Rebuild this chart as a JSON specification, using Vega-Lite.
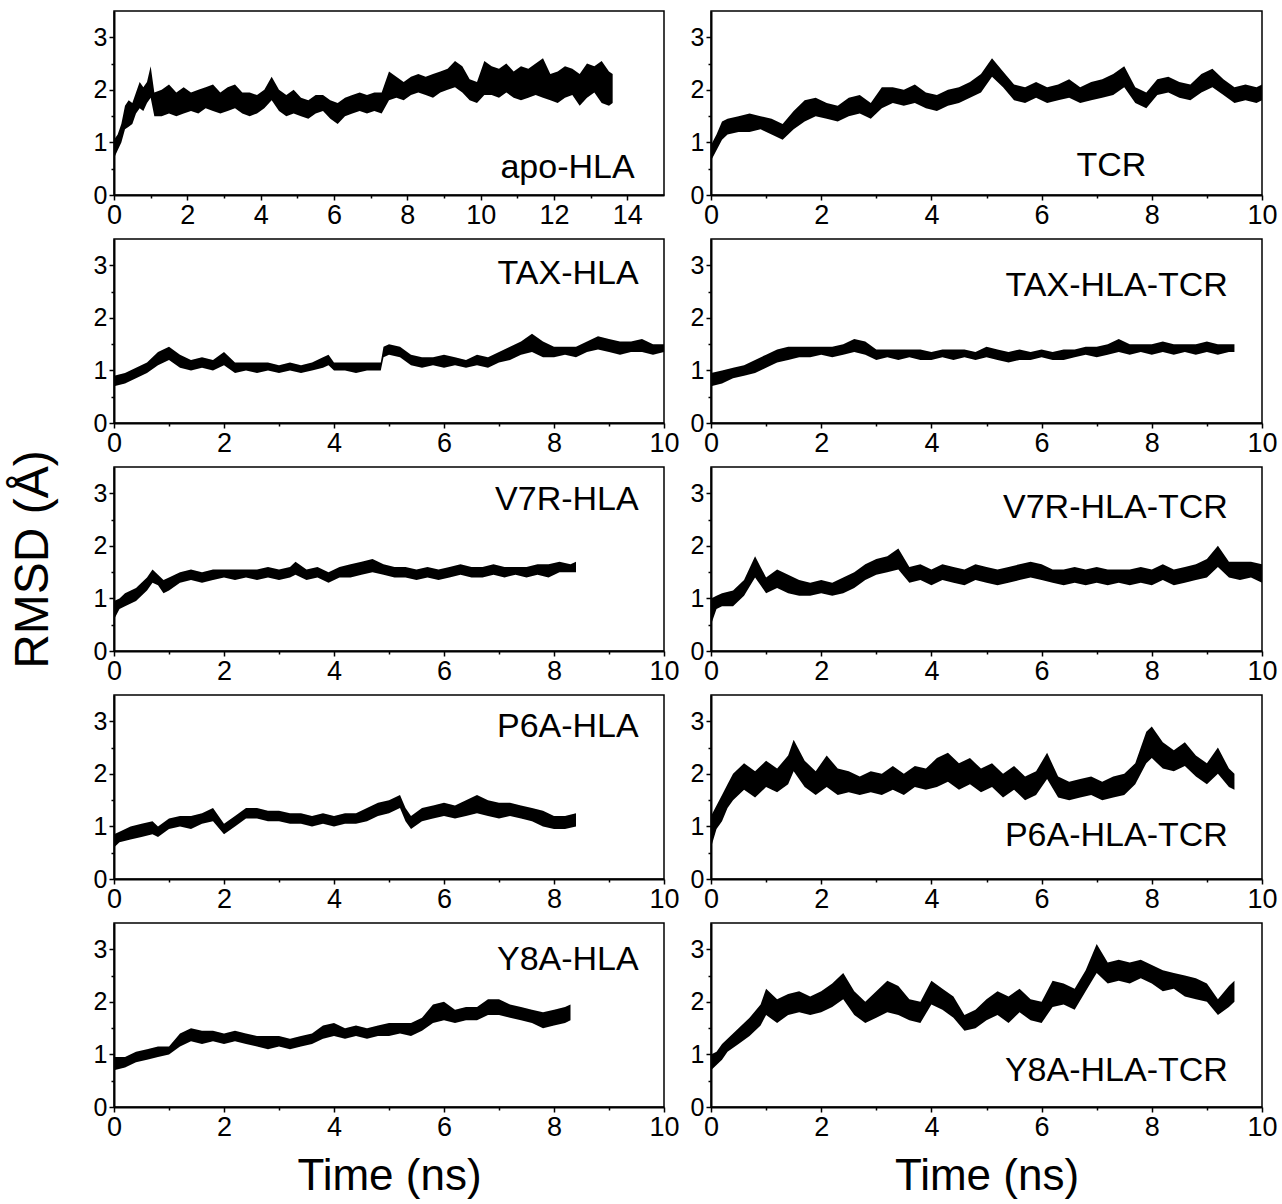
{
"$schema": "https://vega.github.io/schema/vega-lite/v6.json",
"padding": {"left": 8, "top": 10, "right": 5, "bottom": 2},
"background": "white",
"columns": 2,
"spacing": {"row": 44, "column": 47},
"bounds": "flush",
"datasets": {
"apo": [{"t":0.0,"lo":0.70,"hi":1.05},{"t":0.1,"lo":0.85,"hi":1.15},{"t":0.2,"lo":1.00,"hi":1.35},{"t":0.3,"lo":1.25,"hi":1.70},{"t":0.4,"lo":1.30,"hi":1.80},{"t":0.5,"lo":1.35,"hi":1.75},{"t":0.6,"lo":1.55,"hi":1.95},{"t":0.7,"lo":1.65,"hi":2.15},{"t":0.8,"lo":1.60,"hi":2.05},{"t":0.9,"lo":1.75,"hi":2.15},{"t":1.0,"lo":1.85,"hi":2.45},{"t":1.1,"lo":1.50,"hi":1.95},{"t":1.3,"lo":1.50,"hi":2.00},{"t":1.5,"lo":1.55,"hi":2.10},{"t":1.7,"lo":1.50,"hi":1.95},{"t":1.9,"lo":1.55,"hi":2.05},{"t":2.1,"lo":1.60,"hi":1.95},{"t":2.3,"lo":1.55,"hi":2.00},{"t":2.5,"lo":1.65,"hi":2.05},{"t":2.7,"lo":1.60,"hi":2.10},{"t":2.9,"lo":1.55,"hi":1.95},{"t":3.1,"lo":1.60,"hi":2.05},{"t":3.3,"lo":1.65,"hi":2.10},{"t":3.5,"lo":1.55,"hi":1.95},{"t":3.7,"lo":1.50,"hi":1.95},{"t":3.9,"lo":1.55,"hi":1.90},{"t":4.1,"lo":1.65,"hi":2.00},{"t":4.3,"lo":1.80,"hi":2.25},{"t":4.5,"lo":1.60,"hi":2.00},{"t":4.7,"lo":1.50,"hi":1.90},{"t":4.9,"lo":1.55,"hi":2.00},{"t":5.1,"lo":1.50,"hi":1.85},{"t":5.3,"lo":1.45,"hi":1.80},{"t":5.5,"lo":1.55,"hi":1.90},{"t":5.7,"lo":1.60,"hi":1.90},{"t":5.9,"lo":1.45,"hi":1.80},{"t":6.1,"lo":1.35,"hi":1.75},{"t":6.3,"lo":1.50,"hi":1.85},{"t":6.5,"lo":1.55,"hi":1.90},{"t":6.7,"lo":1.60,"hi":1.95},{"t":6.9,"lo":1.55,"hi":1.90},{"t":7.1,"lo":1.60,"hi":1.95},{"t":7.3,"lo":1.55,"hi":1.95},{"t":7.5,"lo":1.80,"hi":2.35},{"t":7.7,"lo":1.85,"hi":2.25},{"t":7.9,"lo":1.80,"hi":2.15},{"t":8.1,"lo":1.90,"hi":2.25},{"t":8.3,"lo":1.95,"hi":2.30},{"t":8.5,"lo":1.90,"hi":2.25},{"t":8.7,"lo":1.85,"hi":2.30},{"t":8.9,"lo":1.95,"hi":2.35},{"t":9.1,"lo":2.00,"hi":2.40},{"t":9.3,"lo":2.05,"hi":2.55},{"t":9.5,"lo":1.95,"hi":2.45},{"t":9.7,"lo":1.80,"hi":2.20},{"t":9.9,"lo":1.75,"hi":2.15},{"t":10.1,"lo":1.90,"hi":2.55},{"t":10.3,"lo":1.90,"hi":2.45},{"t":10.5,"lo":1.85,"hi":2.40},{"t":10.7,"lo":1.95,"hi":2.50},{"t":10.9,"lo":1.85,"hi":2.35},{"t":11.1,"lo":1.80,"hi":2.45},{"t":11.3,"lo":1.85,"hi":2.40},{"t":11.5,"lo":1.90,"hi":2.50},{"t":11.7,"lo":1.85,"hi":2.60},{"t":11.9,"lo":1.80,"hi":2.30},{"t":12.1,"lo":1.75,"hi":2.35},{"t":12.3,"lo":1.85,"hi":2.45},{"t":12.5,"lo":1.90,"hi":2.40},{"t":12.7,"lo":1.70,"hi":2.30},{"t":12.9,"lo":1.85,"hi":2.50},{"t":13.1,"lo":1.95,"hi":2.45},{"t":13.3,"lo":1.75,"hi":2.55},{"t":13.5,"lo":1.70,"hi":2.35},{"t":13.6,"lo":1.75,"hi":2.30}],
"tcr": [{"t":0.0,"lo":0.65,"hi":0.95},{"t":0.1,"lo":0.85,"hi":1.15},{"t":0.2,"lo":1.05,"hi":1.40},{"t":0.3,"lo":1.15,"hi":1.45},{"t":0.5,"lo":1.20,"hi":1.50},{"t":0.7,"lo":1.20,"hi":1.55},{"t":0.9,"lo":1.25,"hi":1.50},{"t":1.1,"lo":1.15,"hi":1.45},{"t":1.3,"lo":1.05,"hi":1.35},{"t":1.5,"lo":1.25,"hi":1.60},{"t":1.7,"lo":1.40,"hi":1.80},{"t":1.9,"lo":1.50,"hi":1.85},{"t":2.1,"lo":1.45,"hi":1.75},{"t":2.3,"lo":1.40,"hi":1.70},{"t":2.5,"lo":1.50,"hi":1.85},{"t":2.7,"lo":1.55,"hi":1.90},{"t":2.9,"lo":1.45,"hi":1.75},{"t":3.1,"lo":1.65,"hi":2.05},{"t":3.3,"lo":1.75,"hi":2.05},{"t":3.5,"lo":1.70,"hi":2.00},{"t":3.7,"lo":1.75,"hi":2.10},{"t":3.9,"lo":1.65,"hi":1.95},{"t":4.1,"lo":1.60,"hi":1.90},{"t":4.3,"lo":1.70,"hi":2.00},{"t":4.5,"lo":1.75,"hi":2.05},{"t":4.7,"lo":1.85,"hi":2.15},{"t":4.9,"lo":1.95,"hi":2.30},{"t":5.1,"lo":2.25,"hi":2.60},{"t":5.3,"lo":2.05,"hi":2.35},{"t":5.5,"lo":1.80,"hi":2.10},{"t":5.7,"lo":1.75,"hi":2.05},{"t":5.9,"lo":1.85,"hi":2.15},{"t":6.1,"lo":1.75,"hi":2.05},{"t":6.3,"lo":1.80,"hi":2.10},{"t":6.5,"lo":1.85,"hi":2.20},{"t":6.7,"lo":1.75,"hi":2.05},{"t":6.9,"lo":1.80,"hi":2.15},{"t":7.1,"lo":1.85,"hi":2.20},{"t":7.3,"lo":1.90,"hi":2.30},{"t":7.5,"lo":2.05,"hi":2.45},{"t":7.7,"lo":1.75,"hi":2.05},{"t":7.9,"lo":1.65,"hi":1.95},{"t":8.1,"lo":1.90,"hi":2.20},{"t":8.3,"lo":1.95,"hi":2.25},{"t":8.5,"lo":1.85,"hi":2.15},{"t":8.7,"lo":1.80,"hi":2.10},{"t":8.9,"lo":1.95,"hi":2.30},{"t":9.1,"lo":2.05,"hi":2.40},{"t":9.3,"lo":1.90,"hi":2.20},{"t":9.5,"lo":1.75,"hi":2.05},{"t":9.7,"lo":1.80,"hi":2.10},{"t":9.9,"lo":1.75,"hi":2.05},{"t":10.0,"lo":1.80,"hi":2.10}],
"tax": [{"t":0.0,"lo":0.70,"hi":0.90},{"t":0.2,"lo":0.75,"hi":0.95},{"t":0.4,"lo":0.85,"hi":1.05},{"t":0.6,"lo":0.95,"hi":1.15},{"t":0.8,"lo":1.10,"hi":1.35},{"t":1.0,"lo":1.20,"hi":1.45},{"t":1.2,"lo":1.05,"hi":1.30},{"t":1.4,"lo":1.00,"hi":1.20},{"t":1.6,"lo":1.05,"hi":1.25},{"t":1.8,"lo":1.00,"hi":1.20},{"t":2.0,"lo":1.10,"hi":1.35},{"t":2.2,"lo":0.95,"hi":1.15},{"t":2.4,"lo":1.00,"hi":1.15},{"t":2.6,"lo":0.95,"hi":1.15},{"t":2.8,"lo":1.00,"hi":1.15},{"t":3.0,"lo":0.95,"hi":1.10},{"t":3.2,"lo":1.00,"hi":1.15},{"t":3.4,"lo":0.95,"hi":1.10},{"t":3.6,"lo":1.00,"hi":1.15},{"t":3.8,"lo":1.05,"hi":1.25},{"t":3.9,"lo":1.10,"hi":1.30},{"t":4.0,"lo":1.00,"hi":1.15},{"t":4.2,"lo":1.00,"hi":1.15},{"t":4.4,"lo":0.95,"hi":1.15},{"t":4.6,"lo":1.00,"hi":1.15},{"t":4.85,"lo":1.00,"hi":1.15},{"t":4.9,"lo":1.25,"hi":1.45},{"t":5.0,"lo":1.30,"hi":1.50},{"t":5.2,"lo":1.25,"hi":1.45},{"t":5.4,"lo":1.10,"hi":1.30},{"t":5.6,"lo":1.05,"hi":1.25},{"t":5.8,"lo":1.10,"hi":1.25},{"t":6.0,"lo":1.05,"hi":1.30},{"t":6.2,"lo":1.10,"hi":1.25},{"t":6.4,"lo":1.05,"hi":1.20},{"t":6.6,"lo":1.10,"hi":1.30},{"t":6.8,"lo":1.05,"hi":1.25},{"t":7.0,"lo":1.15,"hi":1.35},{"t":7.2,"lo":1.20,"hi":1.45},{"t":7.4,"lo":1.30,"hi":1.55},{"t":7.6,"lo":1.35,"hi":1.70},{"t":7.8,"lo":1.25,"hi":1.55},{"t":8.0,"lo":1.25,"hi":1.45},{"t":8.2,"lo":1.30,"hi":1.45},{"t":8.4,"lo":1.25,"hi":1.45},{"t":8.6,"lo":1.35,"hi":1.55},{"t":8.8,"lo":1.40,"hi":1.65},{"t":9.0,"lo":1.35,"hi":1.60},{"t":9.2,"lo":1.30,"hi":1.55},{"t":9.4,"lo":1.35,"hi":1.55},{"t":9.6,"lo":1.35,"hi":1.60},{"t":9.8,"lo":1.30,"hi":1.50},{"t":10.0,"lo":1.35,"hi":1.50}],
"taxt": [{"t":0.0,"lo":0.70,"hi":0.95},{"t":0.2,"lo":0.75,"hi":1.00},{"t":0.4,"lo":0.85,"hi":1.05},{"t":0.6,"lo":0.90,"hi":1.10},{"t":0.8,"lo":0.95,"hi":1.20},{"t":1.0,"lo":1.05,"hi":1.30},{"t":1.2,"lo":1.15,"hi":1.40},{"t":1.4,"lo":1.20,"hi":1.45},{"t":1.6,"lo":1.25,"hi":1.45},{"t":1.8,"lo":1.25,"hi":1.45},{"t":2.0,"lo":1.30,"hi":1.45},{"t":2.2,"lo":1.25,"hi":1.45},{"t":2.4,"lo":1.30,"hi":1.50},{"t":2.6,"lo":1.35,"hi":1.60},{"t":2.8,"lo":1.30,"hi":1.55},{"t":3.0,"lo":1.20,"hi":1.40},{"t":3.2,"lo":1.25,"hi":1.40},{"t":3.4,"lo":1.20,"hi":1.40},{"t":3.6,"lo":1.25,"hi":1.40},{"t":3.8,"lo":1.20,"hi":1.40},{"t":4.0,"lo":1.20,"hi":1.35},{"t":4.2,"lo":1.25,"hi":1.40},{"t":4.4,"lo":1.20,"hi":1.40},{"t":4.6,"lo":1.25,"hi":1.40},{"t":4.8,"lo":1.20,"hi":1.35},{"t":5.0,"lo":1.25,"hi":1.45},{"t":5.2,"lo":1.20,"hi":1.40},{"t":5.4,"lo":1.15,"hi":1.35},{"t":5.6,"lo":1.20,"hi":1.40},{"t":5.8,"lo":1.20,"hi":1.35},{"t":6.0,"lo":1.25,"hi":1.40},{"t":6.2,"lo":1.20,"hi":1.35},{"t":6.4,"lo":1.20,"hi":1.40},{"t":6.6,"lo":1.25,"hi":1.40},{"t":6.8,"lo":1.30,"hi":1.45},{"t":7.0,"lo":1.25,"hi":1.45},{"t":7.2,"lo":1.30,"hi":1.50},{"t":7.4,"lo":1.35,"hi":1.60},{"t":7.6,"lo":1.30,"hi":1.50},{"t":7.8,"lo":1.35,"hi":1.50},{"t":8.0,"lo":1.30,"hi":1.50},{"t":8.2,"lo":1.35,"hi":1.55},{"t":8.4,"lo":1.30,"hi":1.50},{"t":8.6,"lo":1.35,"hi":1.50},{"t":8.8,"lo":1.30,"hi":1.50},{"t":9.0,"lo":1.35,"hi":1.55},{"t":9.2,"lo":1.30,"hi":1.50},{"t":9.4,"lo":1.35,"hi":1.50},{"t":9.5,"lo":1.35,"hi":1.50}],
"v7r": [{"t":0.0,"lo":0.60,"hi":0.95},{"t":0.1,"lo":0.80,"hi":1.00},{"t":0.2,"lo":0.85,"hi":1.10},{"t":0.4,"lo":0.95,"hi":1.20},{"t":0.6,"lo":1.15,"hi":1.40},{"t":0.7,"lo":1.30,"hi":1.55},{"t":0.8,"lo":1.25,"hi":1.45},{"t":0.9,"lo":1.10,"hi":1.35},{"t":1.0,"lo":1.15,"hi":1.40},{"t":1.2,"lo":1.30,"hi":1.50},{"t":1.4,"lo":1.35,"hi":1.55},{"t":1.6,"lo":1.30,"hi":1.50},{"t":1.8,"lo":1.35,"hi":1.55},{"t":2.0,"lo":1.40,"hi":1.55},{"t":2.2,"lo":1.35,"hi":1.55},{"t":2.4,"lo":1.40,"hi":1.55},{"t":2.6,"lo":1.35,"hi":1.55},{"t":2.8,"lo":1.40,"hi":1.60},{"t":3.0,"lo":1.35,"hi":1.55},{"t":3.2,"lo":1.40,"hi":1.60},{"t":3.3,"lo":1.45,"hi":1.70},{"t":3.5,"lo":1.35,"hi":1.55},{"t":3.7,"lo":1.40,"hi":1.60},{"t":3.9,"lo":1.30,"hi":1.50},{"t":4.1,"lo":1.40,"hi":1.60},{"t":4.3,"lo":1.40,"hi":1.65},{"t":4.5,"lo":1.45,"hi":1.70},{"t":4.7,"lo":1.50,"hi":1.75},{"t":4.9,"lo":1.45,"hi":1.65},{"t":5.1,"lo":1.40,"hi":1.60},{"t":5.3,"lo":1.40,"hi":1.60},{"t":5.5,"lo":1.35,"hi":1.55},{"t":5.7,"lo":1.40,"hi":1.60},{"t":5.9,"lo":1.35,"hi":1.55},{"t":6.1,"lo":1.40,"hi":1.60},{"t":6.3,"lo":1.45,"hi":1.65},{"t":6.5,"lo":1.40,"hi":1.60},{"t":6.7,"lo":1.40,"hi":1.60},{"t":6.9,"lo":1.45,"hi":1.65},{"t":7.1,"lo":1.40,"hi":1.60},{"t":7.3,"lo":1.45,"hi":1.60},{"t":7.5,"lo":1.40,"hi":1.60},{"t":7.7,"lo":1.45,"hi":1.65},{"t":7.9,"lo":1.40,"hi":1.65},{"t":8.1,"lo":1.50,"hi":1.70},{"t":8.3,"lo":1.50,"hi":1.65},{"t":8.4,"lo":1.50,"hi":1.70}],
"v7rt": [{"t":0.0,"lo":0.50,"hi":1.00},{"t":0.1,"lo":0.80,"hi":1.05},{"t":0.2,"lo":0.85,"hi":1.10},{"t":0.4,"lo":0.85,"hi":1.15},{"t":0.6,"lo":1.05,"hi":1.35},{"t":0.8,"lo":1.40,"hi":1.80},{"t":0.9,"lo":1.25,"hi":1.60},{"t":1.0,"lo":1.10,"hi":1.40},{"t":1.2,"lo":1.20,"hi":1.55},{"t":1.4,"lo":1.10,"hi":1.45},{"t":1.6,"lo":1.05,"hi":1.35},{"t":1.8,"lo":1.05,"hi":1.30},{"t":2.0,"lo":1.10,"hi":1.35},{"t":2.2,"lo":1.05,"hi":1.30},{"t":2.4,"lo":1.10,"hi":1.40},{"t":2.6,"lo":1.20,"hi":1.50},{"t":2.8,"lo":1.35,"hi":1.65},{"t":3.0,"lo":1.45,"hi":1.75},{"t":3.2,"lo":1.50,"hi":1.80},{"t":3.4,"lo":1.55,"hi":1.95},{"t":3.6,"lo":1.30,"hi":1.60},{"t":3.8,"lo":1.35,"hi":1.65},{"t":4.0,"lo":1.25,"hi":1.55},{"t":4.2,"lo":1.35,"hi":1.65},{"t":4.4,"lo":1.30,"hi":1.60},{"t":4.6,"lo":1.25,"hi":1.55},{"t":4.8,"lo":1.35,"hi":1.65},{"t":5.0,"lo":1.30,"hi":1.60},{"t":5.2,"lo":1.25,"hi":1.55},{"t":5.4,"lo":1.30,"hi":1.60},{"t":5.6,"lo":1.35,"hi":1.65},{"t":5.8,"lo":1.40,"hi":1.70},{"t":6.0,"lo":1.35,"hi":1.65},{"t":6.2,"lo":1.30,"hi":1.55},{"t":6.4,"lo":1.25,"hi":1.55},{"t":6.6,"lo":1.30,"hi":1.60},{"t":6.8,"lo":1.25,"hi":1.55},{"t":7.0,"lo":1.30,"hi":1.60},{"t":7.2,"lo":1.25,"hi":1.55},{"t":7.4,"lo":1.30,"hi":1.55},{"t":7.6,"lo":1.25,"hi":1.55},{"t":7.8,"lo":1.30,"hi":1.60},{"t":8.0,"lo":1.25,"hi":1.55},{"t":8.2,"lo":1.35,"hi":1.65},{"t":8.4,"lo":1.25,"hi":1.55},{"t":8.6,"lo":1.30,"hi":1.60},{"t":8.8,"lo":1.35,"hi":1.65},{"t":9.0,"lo":1.40,"hi":1.75},{"t":9.2,"lo":1.60,"hi":2.00},{"t":9.4,"lo":1.40,"hi":1.70},{"t":9.6,"lo":1.35,"hi":1.70},{"t":9.8,"lo":1.40,"hi":1.70},{"t":10.0,"lo":1.30,"hi":1.65}],
"p6a": [{"t":0.0,"lo":0.60,"hi":0.85},{"t":0.1,"lo":0.70,"hi":0.90},{"t":0.3,"lo":0.75,"hi":1.00},{"t":0.5,"lo":0.80,"hi":1.05},{"t":0.7,"lo":0.85,"hi":1.10},{"t":0.8,"lo":0.80,"hi":1.00},{"t":1.0,"lo":0.95,"hi":1.15},{"t":1.2,"lo":1.00,"hi":1.20},{"t":1.4,"lo":0.95,"hi":1.20},{"t":1.6,"lo":1.05,"hi":1.25},{"t":1.8,"lo":1.10,"hi":1.35},{"t":2.0,"lo":0.85,"hi":1.05},{"t":2.2,"lo":1.00,"hi":1.20},{"t":2.4,"lo":1.15,"hi":1.35},{"t":2.6,"lo":1.15,"hi":1.35},{"t":2.8,"lo":1.10,"hi":1.30},{"t":3.0,"lo":1.10,"hi":1.30},{"t":3.2,"lo":1.05,"hi":1.25},{"t":3.4,"lo":1.05,"hi":1.25},{"t":3.6,"lo":1.00,"hi":1.20},{"t":3.8,"lo":1.05,"hi":1.25},{"t":4.0,"lo":1.00,"hi":1.20},{"t":4.2,"lo":1.05,"hi":1.25},{"t":4.4,"lo":1.05,"hi":1.25},{"t":4.6,"lo":1.10,"hi":1.35},{"t":4.8,"lo":1.20,"hi":1.45},{"t":5.0,"lo":1.25,"hi":1.50},{"t":5.2,"lo":1.35,"hi":1.60},{"t":5.3,"lo":1.10,"hi":1.35},{"t":5.4,"lo":0.95,"hi":1.20},{"t":5.6,"lo":1.10,"hi":1.35},{"t":5.8,"lo":1.15,"hi":1.40},{"t":6.0,"lo":1.20,"hi":1.45},{"t":6.2,"lo":1.15,"hi":1.40},{"t":6.4,"lo":1.20,"hi":1.50},{"t":6.6,"lo":1.25,"hi":1.60},{"t":6.8,"lo":1.20,"hi":1.50},{"t":7.0,"lo":1.15,"hi":1.45},{"t":7.2,"lo":1.20,"hi":1.45},{"t":7.4,"lo":1.15,"hi":1.40},{"t":7.6,"lo":1.10,"hi":1.35},{"t":7.8,"lo":1.00,"hi":1.30},{"t":8.0,"lo":0.95,"hi":1.20},{"t":8.2,"lo":0.95,"hi":1.20},{"t":8.4,"lo":1.00,"hi":1.25}],
"p6at": [{"t":0.0,"lo":0.60,"hi":1.20},{"t":0.1,"lo":0.95,"hi":1.40},{"t":0.2,"lo":1.10,"hi":1.60},{"t":0.3,"lo":1.35,"hi":1.80},{"t":0.4,"lo":1.50,"hi":2.00},{"t":0.6,"lo":1.70,"hi":2.20},{"t":0.8,"lo":1.55,"hi":2.05},{"t":1.0,"lo":1.75,"hi":2.25},{"t":1.2,"lo":1.65,"hi":2.10},{"t":1.4,"lo":1.80,"hi":2.35},{"t":1.5,"lo":2.05,"hi":2.65},{"t":1.7,"lo":1.75,"hi":2.25},{"t":1.9,"lo":1.60,"hi":2.05},{"t":2.1,"lo":1.75,"hi":2.35},{"t":2.3,"lo":1.60,"hi":2.10},{"t":2.5,"lo":1.65,"hi":2.05},{"t":2.7,"lo":1.60,"hi":1.95},{"t":2.9,"lo":1.65,"hi":2.05},{"t":3.1,"lo":1.60,"hi":2.00},{"t":3.3,"lo":1.70,"hi":2.15},{"t":3.5,"lo":1.60,"hi":2.00},{"t":3.7,"lo":1.75,"hi":2.15},{"t":3.9,"lo":1.70,"hi":2.10},{"t":4.1,"lo":1.75,"hi":2.30},{"t":4.3,"lo":1.85,"hi":2.40},{"t":4.5,"lo":1.70,"hi":2.20},{"t":4.7,"lo":1.80,"hi":2.30},{"t":4.9,"lo":1.65,"hi":2.10},{"t":5.1,"lo":1.75,"hi":2.20},{"t":5.3,"lo":1.55,"hi":2.00},{"t":5.5,"lo":1.70,"hi":2.15},{"t":5.7,"lo":1.50,"hi":1.95},{"t":5.9,"lo":1.60,"hi":2.05},{"t":6.1,"lo":1.90,"hi":2.40},{"t":6.3,"lo":1.55,"hi":1.95},{"t":6.5,"lo":1.50,"hi":1.85},{"t":6.7,"lo":1.55,"hi":1.90},{"t":6.9,"lo":1.60,"hi":1.95},{"t":7.1,"lo":1.50,"hi":1.85},{"t":7.3,"lo":1.55,"hi":1.95},{"t":7.5,"lo":1.60,"hi":2.00},{"t":7.7,"lo":1.80,"hi":2.20},{"t":7.9,"lo":2.20,"hi":2.80},{"t":8.0,"lo":2.30,"hi":2.90},{"t":8.2,"lo":2.10,"hi":2.60},{"t":8.4,"lo":2.05,"hi":2.45},{"t":8.6,"lo":2.15,"hi":2.60},{"t":8.8,"lo":1.95,"hi":2.35},{"t":9.0,"lo":1.80,"hi":2.20},{"t":9.2,"lo":2.00,"hi":2.50},{"t":9.4,"lo":1.75,"hi":2.10},{"t":9.5,"lo":1.70,"hi":2.00}],
"y8a": [{"t":0.0,"lo":0.70,"hi":0.95},{"t":0.2,"lo":0.75,"hi":0.95},{"t":0.4,"lo":0.85,"hi":1.05},{"t":0.6,"lo":0.90,"hi":1.10},{"t":0.8,"lo":0.95,"hi":1.15},{"t":1.0,"lo":1.00,"hi":1.15},{"t":1.2,"lo":1.15,"hi":1.40},{"t":1.4,"lo":1.25,"hi":1.50},{"t":1.6,"lo":1.20,"hi":1.45},{"t":1.8,"lo":1.25,"hi":1.45},{"t":2.0,"lo":1.20,"hi":1.40},{"t":2.2,"lo":1.25,"hi":1.45},{"t":2.4,"lo":1.20,"hi":1.40},{"t":2.6,"lo":1.15,"hi":1.35},{"t":2.8,"lo":1.10,"hi":1.35},{"t":3.0,"lo":1.15,"hi":1.35},{"t":3.2,"lo":1.10,"hi":1.30},{"t":3.4,"lo":1.15,"hi":1.35},{"t":3.6,"lo":1.20,"hi":1.40},{"t":3.8,"lo":1.30,"hi":1.55},{"t":4.0,"lo":1.35,"hi":1.60},{"t":4.2,"lo":1.30,"hi":1.50},{"t":4.4,"lo":1.35,"hi":1.55},{"t":4.6,"lo":1.30,"hi":1.50},{"t":4.8,"lo":1.35,"hi":1.55},{"t":5.0,"lo":1.35,"hi":1.60},{"t":5.2,"lo":1.40,"hi":1.60},{"t":5.4,"lo":1.35,"hi":1.60},{"t":5.6,"lo":1.45,"hi":1.70},{"t":5.8,"lo":1.60,"hi":1.95},{"t":6.0,"lo":1.65,"hi":2.00},{"t":6.2,"lo":1.60,"hi":1.85},{"t":6.4,"lo":1.65,"hi":1.90},{"t":6.6,"lo":1.65,"hi":1.90},{"t":6.8,"lo":1.75,"hi":2.05},{"t":7.0,"lo":1.75,"hi":2.05},{"t":7.2,"lo":1.70,"hi":1.95},{"t":7.4,"lo":1.65,"hi":1.90},{"t":7.6,"lo":1.60,"hi":1.85},{"t":7.8,"lo":1.50,"hi":1.80},{"t":8.0,"lo":1.55,"hi":1.85},{"t":8.2,"lo":1.60,"hi":1.90},{"t":8.3,"lo":1.65,"hi":1.95}],
"y8at": [{"t":0.0,"lo":0.70,"hi":1.00},{"t":0.1,"lo":0.80,"hi":1.05},{"t":0.2,"lo":0.90,"hi":1.20},{"t":0.3,"lo":1.05,"hi":1.30},{"t":0.5,"lo":1.20,"hi":1.50},{"t":0.7,"lo":1.35,"hi":1.70},{"t":0.9,"lo":1.55,"hi":1.95},{"t":1.0,"lo":1.75,"hi":2.25},{"t":1.2,"lo":1.60,"hi":2.05},{"t":1.4,"lo":1.75,"hi":2.15},{"t":1.6,"lo":1.80,"hi":2.20},{"t":1.8,"lo":1.75,"hi":2.10},{"t":2.0,"lo":1.80,"hi":2.20},{"t":2.2,"lo":1.90,"hi":2.35},{"t":2.4,"lo":2.05,"hi":2.55},{"t":2.6,"lo":1.75,"hi":2.20},{"t":2.8,"lo":1.60,"hi":2.00},{"t":3.0,"lo":1.70,"hi":2.20},{"t":3.2,"lo":1.80,"hi":2.40},{"t":3.4,"lo":1.75,"hi":2.30},{"t":3.6,"lo":1.65,"hi":2.05},{"t":3.8,"lo":1.60,"hi":2.00},{"t":4.0,"lo":1.95,"hi":2.40},{"t":4.2,"lo":1.85,"hi":2.25},{"t":4.4,"lo":1.70,"hi":2.10},{"t":4.6,"lo":1.45,"hi":1.75},{"t":4.8,"lo":1.50,"hi":1.85},{"t":5.0,"lo":1.65,"hi":2.05},{"t":5.2,"lo":1.75,"hi":2.20},{"t":5.4,"lo":1.60,"hi":2.10},{"t":5.6,"lo":1.80,"hi":2.25},{"t":5.8,"lo":1.65,"hi":2.05},{"t":6.0,"lo":1.60,"hi":2.00},{"t":6.2,"lo":1.90,"hi":2.40},{"t":6.4,"lo":1.95,"hi":2.35},{"t":6.6,"lo":1.85,"hi":2.25},{"t":6.8,"lo":2.20,"hi":2.60},{"t":7.0,"lo":2.55,"hi":3.10},{"t":7.2,"lo":2.35,"hi":2.75},{"t":7.4,"lo":2.40,"hi":2.80},{"t":7.6,"lo":2.35,"hi":2.75},{"t":7.8,"lo":2.45,"hi":2.80},{"t":8.0,"lo":2.35,"hi":2.70},{"t":8.2,"lo":2.20,"hi":2.60},{"t":8.4,"lo":2.25,"hi":2.55},{"t":8.6,"lo":2.10,"hi":2.50},{"t":8.8,"lo":2.05,"hi":2.45},{"t":9.0,"lo":2.00,"hi":2.35},{"t":9.2,"lo":1.75,"hi":2.05},{"t":9.4,"lo":1.90,"hi":2.30},{"t":9.5,"lo":2.00,"hi":2.40}]
},
"concat": [
{"width": 550, "height": 184, "resolve": {"axis": {"x": "independent", "y": "independent"}},
 "layer": [
  {"data": {"name": "apo"}, "mark": {"type": "area", "color": "black"},
   "encoding": {"x": {"field": "t", "type": "quantitative", "scale": {"domain": [0, 15], "nice": false}, "axis": {"values": [0,2,4,6,8,10,12,14], "title": null}},
    "y": {"field": "lo", "type": "quantitative", "scale": {"domain": [0, 3.5], "nice": false}, "axis": {"values": [0,1,2,3], "title": null}},
    "y2": {"field": "hi"}}},
  {"data": {"values": [{"name": "apo-HLA"}]}, "mark": {"type": "text", "align": "right", "baseline": "alphabetic", "fontSize": 34, "font": "Liberation Sans", "color": "black"},
   "encoding": {"x": {"datum": 14.2, "type": "quantitative", "axis": {"orient": "bottom", "values": [1,3,5,7,9,11,13], "labels": false, "domain": false, "tickSize": 3, "title": null}},
    "y": {"datum": 0.33, "type": "quantitative", "axis": {"orient": "left", "values": [0.5,1.5,2.5], "labels": false, "domain": false, "tickSize": 3, "title": null}},
    "text": {"field": "name"}}}
 ]},
{"width": 551, "height": 184, "resolve": {"axis": {"x": "independent", "y": "independent"}},
 "layer": [
  {"data": {"name": "tcr"}, "mark": {"type": "area", "color": "black"},
   "encoding": {"x": {"field": "t", "type": "quantitative", "scale": {"domain": [0, 10], "nice": false}, "axis": {"values": [0,2,4,6,8,10], "title": null}},
    "y": {"field": "lo", "type": "quantitative", "scale": {"domain": [0, 3.5], "nice": false}, "axis": {"values": [0,1,2,3], "title": null}},
    "y2": {"field": "hi"}}},
  {"data": {"values": [{"name": "TCR"}]}, "mark": {"type": "text", "align": "right", "baseline": "alphabetic", "fontSize": 34, "font": "Liberation Sans", "color": "black"},
   "encoding": {"x": {"datum": 7.9, "type": "quantitative", "axis": {"orient": "bottom", "values": [1,3,5,7,9], "labels": false, "domain": false, "tickSize": 3, "title": null}},
    "y": {"datum": 0.36, "type": "quantitative", "axis": {"orient": "left", "values": [0.5,1.5,2.5], "labels": false, "domain": false, "tickSize": 3, "title": null}},
    "text": {"field": "name"}}}
 ]},
{"width": 550, "height": 184, "resolve": {"axis": {"x": "independent", "y": "independent"}},
 "layer": [
  {"data": {"name": "tax"}, "mark": {"type": "area", "color": "black"},
   "encoding": {"x": {"field": "t", "type": "quantitative", "scale": {"domain": [0, 10], "nice": false}, "axis": {"values": [0,2,4,6,8,10], "title": null}},
    "y": {"field": "lo", "type": "quantitative", "scale": {"domain": [0, 3.5], "nice": false}, "axis": {"values": [0,1,2,3], "title": null}},
    "y2": {"field": "hi"}}},
  {"data": {"values": [{"name": "TAX-HLA"}]}, "mark": {"type": "text", "align": "right", "baseline": "alphabetic", "fontSize": 34, "font": "Liberation Sans", "color": "black"},
   "encoding": {"x": {"datum": 9.54, "type": "quantitative", "axis": {"orient": "bottom", "values": [1,3,5,7,9], "labels": false, "domain": false, "tickSize": 3, "title": null}},
    "y": {"datum": 2.64, "type": "quantitative", "axis": {"orient": "left", "values": [0.5,1.5,2.5], "labels": false, "domain": false, "tickSize": 3, "title": null}},
    "text": {"field": "name"}}}
 ]},
{"width": 551, "height": 184, "resolve": {"axis": {"x": "independent", "y": "independent"}},
 "layer": [
  {"data": {"name": "taxt"}, "mark": {"type": "area", "color": "black"},
   "encoding": {"x": {"field": "t", "type": "quantitative", "scale": {"domain": [0, 10], "nice": false}, "axis": {"values": [0,2,4,6,8,10], "title": null}},
    "y": {"field": "lo", "type": "quantitative", "scale": {"domain": [0, 3.5], "nice": false}, "axis": {"values": [0,1,2,3], "title": null}},
    "y2": {"field": "hi"}}},
  {"data": {"values": [{"name": "TAX-HLA-TCR"}]}, "mark": {"type": "text", "align": "right", "baseline": "alphabetic", "fontSize": 34, "font": "Liberation Sans", "color": "black"},
   "encoding": {"x": {"datum": 9.38, "type": "quantitative", "axis": {"orient": "bottom", "values": [1,3,5,7,9], "labels": false, "domain": false, "tickSize": 3, "title": null}},
    "y": {"datum": 2.42, "type": "quantitative", "axis": {"orient": "left", "values": [0.5,1.5,2.5], "labels": false, "domain": false, "tickSize": 3, "title": null}},
    "text": {"field": "name"}}}
 ]},
{"width": 550, "height": 184, "resolve": {"axis": {"x": "independent", "y": "independent"}},
 "layer": [
  {"data": {"name": "v7r"}, "mark": {"type": "area", "color": "black"},
   "encoding": {"x": {"field": "t", "type": "quantitative", "scale": {"domain": [0, 10], "nice": false}, "axis": {"values": [0,2,4,6,8,10], "title": null}},
    "y": {"field": "lo", "type": "quantitative", "scale": {"domain": [0, 3.5], "nice": false}, "axis": {"values": [0,1,2,3], "title": "RMSD (Å)", "titleFontSize": 48, "titlePadding": 36}},
    "y2": {"field": "hi"}}},
  {"data": {"values": [{"name": "V7R-HLA"}]}, "mark": {"type": "text", "align": "right", "baseline": "alphabetic", "fontSize": 34, "font": "Liberation Sans", "color": "black"},
   "encoding": {"x": {"datum": 9.54, "type": "quantitative", "axis": {"orient": "bottom", "values": [1,3,5,7,9], "labels": false, "domain": false, "tickSize": 3, "title": null}},
    "y": {"datum": 2.69, "type": "quantitative", "axis": {"orient": "left", "values": [0.5,1.5,2.5], "labels": false, "domain": false, "tickSize": 3, "title": null}},
    "text": {"field": "name"}}}
 ]},
{"width": 551, "height": 184, "resolve": {"axis": {"x": "independent", "y": "independent"}},
 "layer": [
  {"data": {"name": "v7rt"}, "mark": {"type": "area", "color": "black"},
   "encoding": {"x": {"field": "t", "type": "quantitative", "scale": {"domain": [0, 10], "nice": false}, "axis": {"values": [0,2,4,6,8,10], "title": null}},
    "y": {"field": "lo", "type": "quantitative", "scale": {"domain": [0, 3.5], "nice": false}, "axis": {"values": [0,1,2,3], "title": null}},
    "y2": {"field": "hi"}}},
  {"data": {"values": [{"name": "V7R-HLA-TCR"}]}, "mark": {"type": "text", "align": "right", "baseline": "alphabetic", "fontSize": 34, "font": "Liberation Sans", "color": "black"},
   "encoding": {"x": {"datum": 9.38, "type": "quantitative", "axis": {"orient": "bottom", "values": [1,3,5,7,9], "labels": false, "domain": false, "tickSize": 3, "title": null}},
    "y": {"datum": 2.53, "type": "quantitative", "axis": {"orient": "left", "values": [0.5,1.5,2.5], "labels": false, "domain": false, "tickSize": 3, "title": null}},
    "text": {"field": "name"}}}
 ]},
{"width": 550, "height": 184, "resolve": {"axis": {"x": "independent", "y": "independent"}},
 "layer": [
  {"data": {"name": "p6a"}, "mark": {"type": "area", "color": "black"},
   "encoding": {"x": {"field": "t", "type": "quantitative", "scale": {"domain": [0, 10], "nice": false}, "axis": {"values": [0,2,4,6,8,10], "title": null}},
    "y": {"field": "lo", "type": "quantitative", "scale": {"domain": [0, 3.5], "nice": false}, "axis": {"values": [0,1,2,3], "title": null}},
    "y2": {"field": "hi"}}},
  {"data": {"values": [{"name": "P6A-HLA"}]}, "mark": {"type": "text", "align": "right", "baseline": "alphabetic", "fontSize": 34, "font": "Liberation Sans", "color": "black"},
   "encoding": {"x": {"datum": 9.54, "type": "quantitative", "axis": {"orient": "bottom", "values": [1,3,5,7,9], "labels": false, "domain": false, "tickSize": 3, "title": null}},
    "y": {"datum": 2.70, "type": "quantitative", "axis": {"orient": "left", "values": [0.5,1.5,2.5], "labels": false, "domain": false, "tickSize": 3, "title": null}},
    "text": {"field": "name"}}}
 ]},
{"width": 551, "height": 184, "resolve": {"axis": {"x": "independent", "y": "independent"}},
 "layer": [
  {"data": {"name": "p6at"}, "mark": {"type": "area", "color": "black"},
   "encoding": {"x": {"field": "t", "type": "quantitative", "scale": {"domain": [0, 10], "nice": false}, "axis": {"values": [0,2,4,6,8,10], "title": null}},
    "y": {"field": "lo", "type": "quantitative", "scale": {"domain": [0, 3.5], "nice": false}, "axis": {"values": [0,1,2,3], "title": null}},
    "y2": {"field": "hi"}}},
  {"data": {"values": [{"name": "P6A-HLA-TCR"}]}, "mark": {"type": "text", "align": "right", "baseline": "alphabetic", "fontSize": 34, "font": "Liberation Sans", "color": "black"},
   "encoding": {"x": {"datum": 9.38, "type": "quantitative", "axis": {"orient": "bottom", "values": [1,3,5,7,9], "labels": false, "domain": false, "tickSize": 3, "title": null}},
    "y": {"datum": 0.63, "type": "quantitative", "axis": {"orient": "left", "values": [0.5,1.5,2.5], "labels": false, "domain": false, "tickSize": 3, "title": null}},
    "text": {"field": "name"}}}
 ]},
{"width": 550, "height": 184, "resolve": {"axis": {"x": "independent", "y": "independent"}},
 "layer": [
  {"data": {"name": "y8a"}, "mark": {"type": "area", "color": "black"},
   "encoding": {"x": {"field": "t", "type": "quantitative", "scale": {"domain": [0, 10], "nice": false}, "axis": {"values": [0,2,4,6,8,10], "title": "Time (ns)", "titleFontSize": 44, "titlePadding": 14}},
    "y": {"field": "lo", "type": "quantitative", "scale": {"domain": [0, 3.5], "nice": false}, "axis": {"values": [0,1,2,3], "title": null}},
    "y2": {"field": "hi"}}},
  {"data": {"values": [{"name": "Y8A-HLA"}]}, "mark": {"type": "text", "align": "right", "baseline": "alphabetic", "fontSize": 34, "font": "Liberation Sans", "color": "black"},
   "encoding": {"x": {"datum": 9.54, "type": "quantitative", "axis": {"orient": "bottom", "values": [1,3,5,7,9], "labels": false, "domain": false, "tickSize": 3, "title": null}},
    "y": {"datum": 2.61, "type": "quantitative", "axis": {"orient": "left", "values": [0.5,1.5,2.5], "labels": false, "domain": false, "tickSize": 3, "title": null}},
    "text": {"field": "name"}}}
 ]},
{"width": 551, "height": 184, "resolve": {"axis": {"x": "independent", "y": "independent"}},
 "layer": [
  {"data": {"name": "y8at"}, "mark": {"type": "area", "color": "black"},
   "encoding": {"x": {"field": "t", "type": "quantitative", "scale": {"domain": [0, 10], "nice": false}, "axis": {"values": [0,2,4,6,8,10], "title": "Time (ns)", "titleFontSize": 44, "titlePadding": 14}},
    "y": {"field": "lo", "type": "quantitative", "scale": {"domain": [0, 3.5], "nice": false}, "axis": {"values": [0,1,2,3], "title": null}},
    "y2": {"field": "hi"}}},
  {"data": {"values": [{"name": "Y8A-HLA-TCR"}]}, "mark": {"type": "text", "align": "right", "baseline": "alphabetic", "fontSize": 34, "font": "Liberation Sans", "color": "black"},
   "encoding": {"x": {"datum": 9.38, "type": "quantitative", "axis": {"orient": "bottom", "values": [1,3,5,7,9], "labels": false, "domain": false, "tickSize": 3, "title": null}},
    "y": {"datum": 0.50, "type": "quantitative", "axis": {"orient": "left", "values": [0.5,1.5,2.5], "labels": false, "domain": false, "tickSize": 3, "title": null}},
    "text": {"field": "name"}}}
 ]}
],
"config": {
 "view": {"stroke": "black", "strokeWidth": 1.5},
 "axis": {"grid": false, "domainColor": "black", "domainWidth": 2, "tickColor": "black", "tickWidth": 1.5, "tickSize": 5, "labelPadding": 2, "labelFont": "Liberation Sans", "labelFontSize": 25, "labelColor": "black", "labelFlush": false, "labelOverlap": false, "labelBound": false, "titleFont": "Liberation Sans", "titleFontWeight": "normal", "titleColor": "black"},
 "axisX": {"labelFontSize": 27}
}
}
